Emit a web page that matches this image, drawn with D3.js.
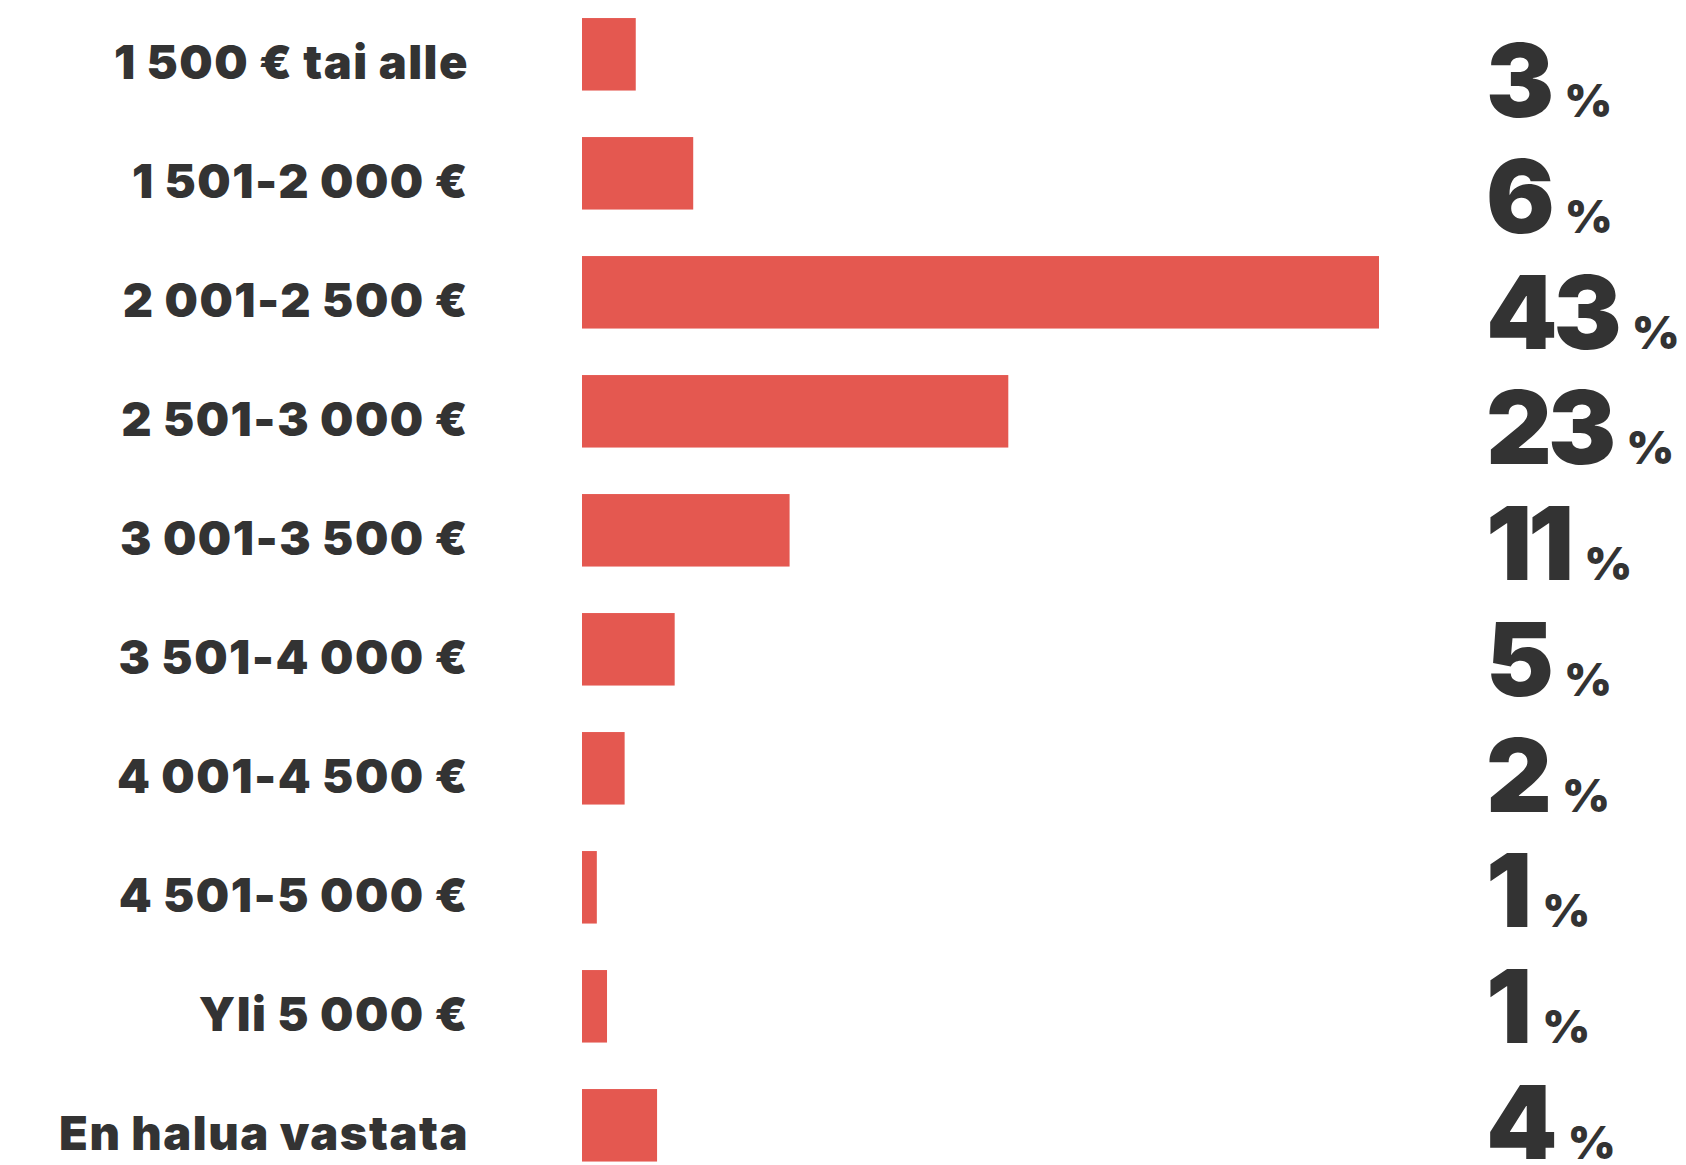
<!DOCTYPE html>
<html>
<head>
<meta charset="utf-8">
<script src="https://cdn.jsdelivr.net/npm/d3@7/dist/d3.min.js"></script>
<style>
  html, body { margin: 0; padding: 0; background: #ffffff; }
  svg { display: block; }
</style>
</head>
<body>
<svg id="chart" width="1686" height="1165"></svg>
<script>
// Data
const categories = [
  "1 500 € tai alle",
  "1 501-2 000 €",
  "2 001-2 500 €",
  "2 501-3 000 €",
  "3 001-3 500 €",
  "3 501-4 000 €",
  "4 001-4 500 €",
  "4 501-5 000 €",
  "Yli 5 000 €",
  "En halua vastata"
];
const barValues = [2.9, 6.0, 43.0, 23.0, 11.2, 5.0, 2.3, 0.8, 1.35, 4.05];
const valueLabels = [3, 6, 43, 23, 11, 5, 2, 1, 1, 4];

const barColor = "#e45850";
const textColor = "#333333";

const svg = d3.select("#chart");

const x = d3.scaleLinear().domain([0, 43]).range([582, 1379]);
const y = d3.scaleBand().domain(categories).range([-5.2, 1184.8])
  .paddingInner(0.3908).paddingOuter(0.1954);
const yVal = d3.scalePoint().domain(categories).range([117, 1159]);

const rows = categories.map((c, i) => ({ cat: c, v: barValues[i], lab: valueLabels[i] }));

// Bars
svg.append("g").selectAll("rect").data(rows).join("rect")
  .attr("x", x(0))
  .attr("y", d => y(d.cat))
  .attr("width", d => x(d.v) - x(0))
  .attr("height", y.bandwidth())
  .attr("fill", barColor);

// Category labels
svg.append("g").selectAll("text").data(rows).join("text")
  .attr("x", 469)
  .attr("y", d => y(d.cat) + y.bandwidth() / 2 + 25)
  .attr("text-anchor", "end")
  .attr("font-family", "Inter, 'Open Sans', sans-serif")
  .attr("font-weight", 900)
  .attr("font-size", 47)
  .attr("letter-spacing", 1.5)
  .attr("word-spacing", -1)
  .attr("fill", textColor)
  .text(d => d.cat);

// Value labels
const vt = svg.append("g").selectAll("text").data(rows).join("text")
  .attr("x", 1486)
  .attr("y", d => yVal(d.cat))
  .attr("font-family", "Inter, 'Open Sans', sans-serif")
  .attr("font-weight", 900)
  .attr("fill", textColor);
vt.append("tspan").attr("font-size", 102).attr("letter-spacing", -4).text(d => d.lab);
vt.append("tspan").attr("font-size", 46).attr("dx", 14).text("%");
</script>
</body>
</html>
